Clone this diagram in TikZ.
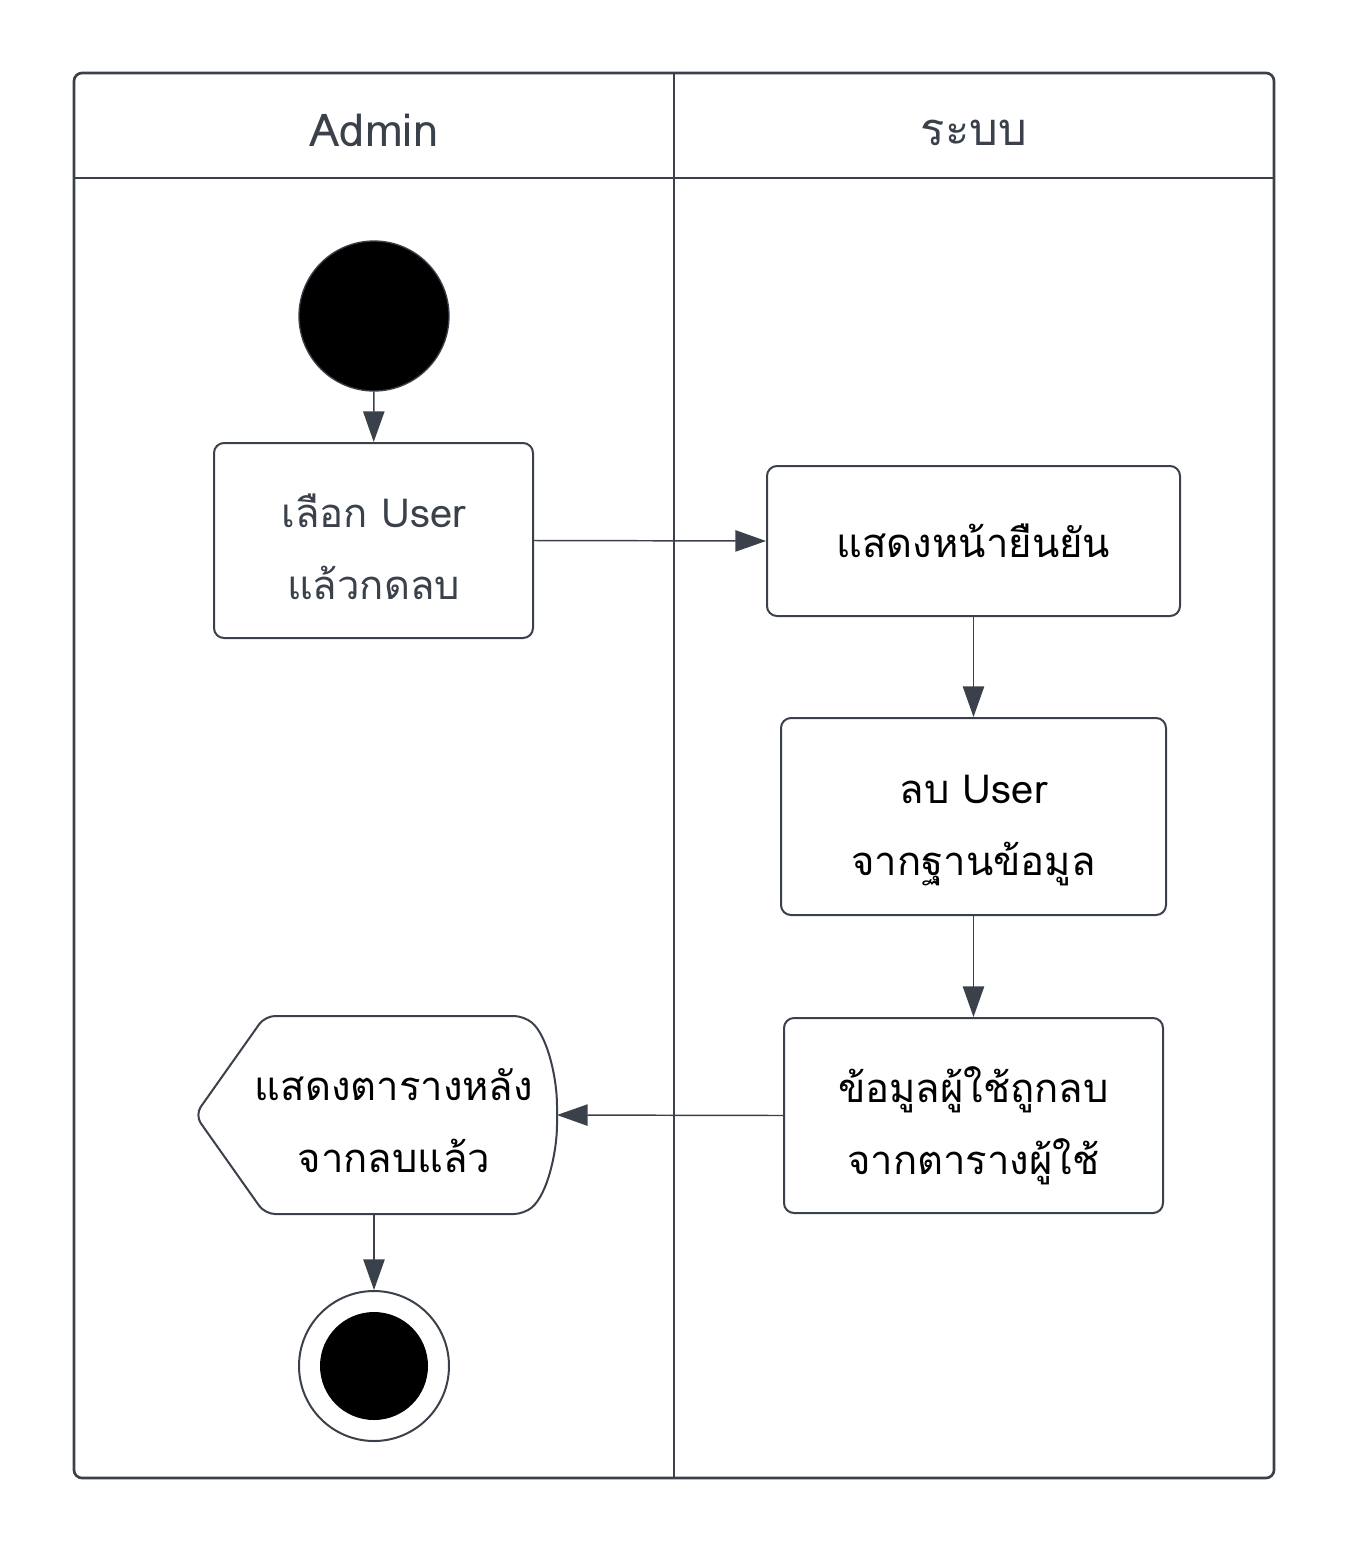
\documentclass[tikz,border=0pt]{standalone}
\usepackage{fontspec}
\setmainfont[Script=Thai]{Loma}
\usetikzlibrary{arrows.meta}
\definecolor{laneline}{RGB}{58,65,75}

\tikzset{every picture/.style={line width=0.75pt}}
\tikzset{
	lanehead/.style={text=laneline, font=\fontsize{34}{40}\selectfont, inner sep=0.75pt},
	actbox/.style={draw=laneline, line width=1.5pt, rounded corners=7.5pt, align=center, inner sep=0pt, font=\fontsize{30}{54}\selectfont},
	twoline/.style={text height=94pt, text depth=5.5pt},
	flow/.style={draw=laneline, line width=1.1pt, -{Triangle[length=23pt,width=16pt]}},
}

\begin{document}
\begin{tikzpicture}[x=0.75pt,y=0.75pt,yscale=-1,xscale=1]
	\useasboundingbox (0,0) rectangle (1350,1554);
	
	%Shape: Swimlane frame
	\draw [draw=laneline, line width=2pt, rounded corners=6pt] (74,73) rectangle (1274,1478);
	\draw [draw=laneline, line width=2pt] (74,178) -- (1274,178);
	\draw [draw=laneline, line width=2pt] (674,73) -- (674,1478);
	
	% Text Node
	\node [lanehead] (headadmin) at (374,130) {Admin};
	% Text Node
	\node [lanehead] (headsys) at (974,133) {ระบบ};
	
	%Shape: Initial node
	\node [circle, draw=laneline, fill=black, line width=1pt, minimum size=112.5pt, inner sep=0pt] (start) at (374,316) {};
	
	%Shape: Actions
	\node [actbox, twoline, text=laneline, minimum width=239.25pt, minimum height=146.25pt] (pickuser) at (373.5,540.5) {เลือก User\\แล้วกดลบ};
	\node [actbox, minimum width=309.75pt, minimum height=112.5pt] (confirm) at (973.5,541) {แสดงหน้ายืนยัน};
	\node [actbox, twoline, minimum width=288.75pt, minimum height=147.75pt] (deldb) at (973.5,816.5) {ลบ User\\จากฐานข้อมูล};
	\node [actbox, twoline, minimum width=284.25pt, minimum height=146.25pt] (deltable) at (973.5,1115.5) {ข้อมูลผู้ใช้ถูกลบ\\จากตารางผู้ใช้};
	
	%Shape: Display
	\draw [draw=laneline, line width=1.5pt, rounded corners=7.5pt] (195,1115) -- (265,1016) -- (524,1016) .. controls (548,1036) and (557,1080) .. (557,1115) .. controls (557,1150) and (548,1194) .. (524,1214) -- (265,1214) -- cycle;
	\node [twoline, align=center, inner sep=0pt, font=\fontsize{30}{54}\selectfont] (showtable) at (394,1113) {แสดงตารางหลัง\\จากลบแล้ว};
	\coordinate (showin) at (557,1115);
	\coordinate (showout) at (374,1214);
	
	%Shape: Final node
	\node [circle, draw=laneline, line width=1.5pt, minimum size=112.5pt, inner sep=0pt] (finish) at (374,1366) {};
	\node [circle, fill=black, minimum size=81pt, inner sep=0pt] (finishdot) at (374,1366) {};
	
	%Straight Lines
	\draw [flow] (start) -- (pickuser);
	\draw [flow] (pickuser.east) -- (confirm.west);
	\draw [flow] (confirm) -- (deldb);
	\draw [flow] (deldb) -- (deltable);
	\draw [flow] (deltable.west) -- (showin);
	\draw [flow] (showout) -- (finish);
	
\end{tikzpicture}
\end{document}
